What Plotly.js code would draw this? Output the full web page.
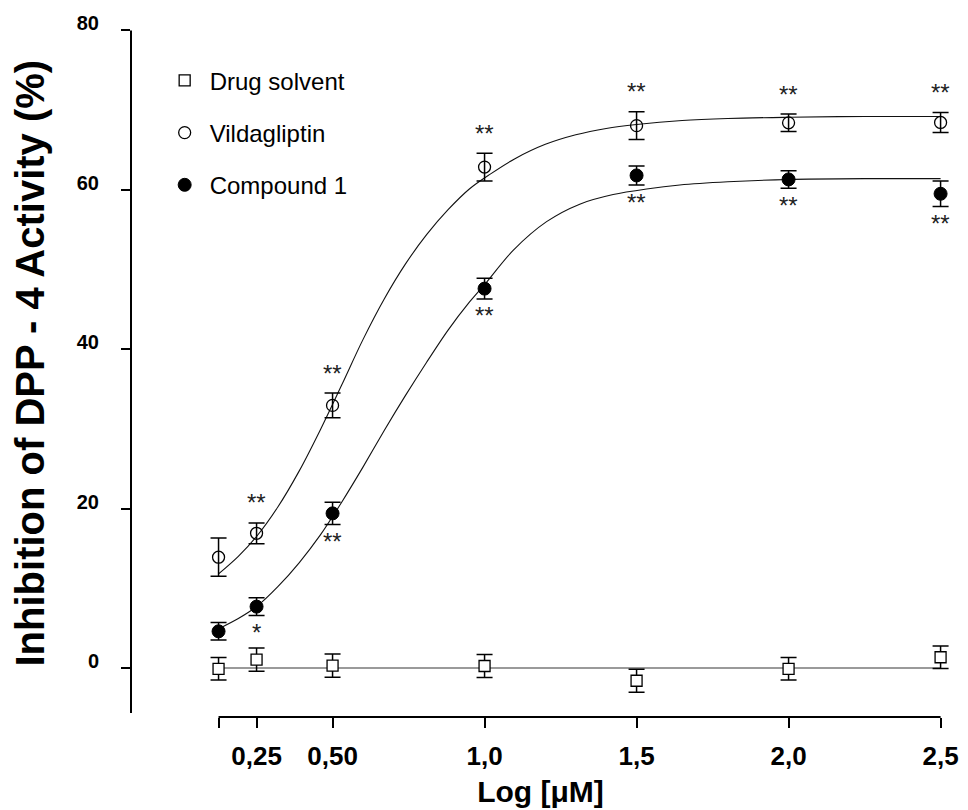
<!DOCTYPE html>
<html>
<head>
<meta charset="utf-8">
<script src="https://cdn.plot.ly/plotly-3.0.1.min.js"></script>
<style>html,body{margin:0;padding:0;background:#fff;}#chart{width:968px;height:810px;}</style>
</head>
<body>
<div id="chart"></div>
<script>
// ---- data ----
const xVals = [0.125, 0.25, 0.5, 1.0, 1.5, 2.0, 2.5];
const xTickText = ['', '0,25', '0,50', '1,0', '1,5', '2,0', '2,5'];
const yTicks = [0, 20, 40, 60, 80];

const solventMean = [-0.1, 1.05, 0.3, 0.25, -1.6, -0.1, 1.35];
const solventErr  = [1.4, 1.45, 1.45, 1.45, 1.45, 1.4, 1.4];

const vildaMean = [13.9, 16.9, 32.95, 62.85, 68.05, 68.4, 68.45];
const vildaErr  = [2.4, 1.3, 1.55, 1.75, 1.75, 1.1, 1.25];

const compMean = [4.6, 7.7, 19.4, 47.6, 61.8, 61.3, 59.5];
const compErr  = [1.1, 1.1, 1.4, 1.3, 1.2, 1.1, 1.6];

// fitted curves
const solventFitX = [0.125, 2.5];
const solventFitY = [0, 0];

const vildaFitX = [0.125, 0.19, 0.25, 0.32, 0.39, 0.46, 0.53, 0.60, 0.67, 0.74, 0.81, 0.88, 0.95, 1.02, 1.1, 1.2, 1.3, 1.4, 1.5, 1.65, 1.8, 2.0, 2.25, 2.5];
const vildaFitY = [11.8, 14.0, 16.5, 20.2, 24.7, 29.9, 35.5, 41.2, 46.3, 50.7, 54.4, 57.5, 60.1, 62.0, 63.9, 65.7, 66.9, 67.7, 68.2, 68.7, 68.95, 69.1, 69.2, 69.2];

const compFitX = [0.125, 0.19, 0.25, 0.32, 0.39, 0.46, 0.53, 0.6, 0.67, 0.74, 0.81, 0.88, 0.95, 1.0, 1.094, 1.204, 1.313, 1.423, 1.533, 1.642, 1.8, 2.0, 2.25, 2.5];
const compFitY = [4.9, 6.2, 7.7, 10.2, 13.2, 16.7, 20.8, 25.2, 29.8, 34.2, 38.4, 42.4, 45.9, 48.1, 52.4, 56.0, 58.2, 59.4, 60.1, 60.6, 61.0, 61.3, 61.4, 61.4];

const vildaStars = ['', '**', '**', '**', '**', '**', '**'];
const compStars  = ['', '*', '**', '**', '**', '**', '**'];

const seriesNames = ['Drug solvent', 'Vildagliptin', 'Compound 1'];

// ---- traces ----
const FONT = 'Arial, "Liberation Sans", sans-serif';
const errStyle = (arr) => ({type: 'data', array: arr, visible: true, color: '#000', thickness: 1.5, width: 8});

const traces = [
  {x: solventFitX, y: solventFitY, mode: 'lines', line: {color: '#9a9a9a', width: 2}, showlegend: false, hoverinfo: 'skip'},
  {x: vildaFitX, y: vildaFitY, mode: 'lines', line: {color: '#111', width: 1.1, shape: 'spline', smoothing: 1}, showlegend: false, hoverinfo: 'skip'},
  {x: compFitX, y: compFitY, mode: 'lines', line: {color: '#111', width: 1.1, shape: 'spline', smoothing: 0.8}, showlegend: false, hoverinfo: 'skip'},
  {x: xVals, y: solventMean, name: seriesNames[0], legendgroup: 'g1', mode: 'markers', cliponaxis: false,
   marker: {symbol: 'square', size: 11, color: '#fff', line: {color: '#000', width: 1.3}}, error_y: errStyle(solventErr)},
  {x: xVals, y: vildaMean, name: seriesNames[1], legendgroup: 'g2', mode: 'markers', cliponaxis: false,
   marker: {symbol: 'circle-open', size: 12, color: '#000', line: {color: '#000', width: 1.3}}, error_y: errStyle(vildaErr)},
  {x: xVals, y: compMean, name: seriesNames[2], legendgroup: 'g3', mode: 'markers', cliponaxis: false,
   marker: {symbol: 'circle', size: 13, color: '#000', line: {color: '#000', width: 1}}, error_y: errStyle(compErr)}
];

// significance stars
const annotations = [];
xVals.forEach((x, i) => {
  if (vildaStars[i]) annotations.push({x: x, y: vildaMean[i] + vildaErr[i], xref: 'x', yref: 'y', text: vildaStars[i],
    showarrow: false, yanchor: 'middle', yshift: 20, font: {family: FONT, size: 24, color: '#222'}});
  if (compStars[i]) annotations.push({x: x, y: compMean[i] - compErr[i], xref: 'x', yref: 'y', text: compStars[i],
    showarrow: false, yanchor: 'middle', yshift: -17, font: {family: FONT, size: 24, color: '#222'}});
});
// y-axis title (placed as rotated text)
annotations.push({x: 0, y: 0.5, xref: 'paper', yref: 'paper', xanchor: 'center', yanchor: 'middle', xshift: -102, yshift: 9,
  textangle: -90, showarrow: false, text: 'Inhibition of DPP - 4 Activity (%)',
  font: {family: FONT, size: 40, color: '#000', weight: 'bold'}});

const layout = {
  width: 968, height: 810,
  margin: {l: 131, r: 18, t: 28, b: 93},
  paper_bgcolor: '#fff', plot_bgcolor: '#fff',
  showlegend: true,
  legend: {x: 0.035, y: 0.956, xanchor: 'left', yanchor: 'top', traceorder: 'grouped', tracegroupgap: 18,
    itemwidth: 40, font: {family: FONT, size: 24, color: '#000'}, bgcolor: 'rgba(0,0,0,0)'},
  xaxis: {range: [-0.163, 2.531], tickvals: xVals, ticktext: xTickText, ticks: 'outside', ticklen: 10, tickwidth: 2,
    tickcolor: '#000', showgrid: false, zeroline: false, showline: false, ticklabelstandoff: 6,
    tickfont: {family: FONT, size: 26, color: '#000', weight: 'bold'},
    title: {text: 'Log [μM]', font: {family: FONT, size: 30, color: '#000', weight: 'bold'}, standoff: 10}},
  yaxis: {range: [-6.15, 80.3], tickvals: yTicks, ticks: 'outside', ticklen: 9, tickwidth: 2, tickcolor: '#000',
    showgrid: false, zeroline: false, showline: false, ticklabelstandoff: 18, ticklabelshift: -7,
    tickfont: {family: FONT, size: 20, color: '#000', weight: 'bold'}},
  shapes: [
    {type: 'line', xref: 'paper', yref: 'y', x0: 0, x1: 0, y0: -5.65, y1: 80, line: {color: '#000', width: 2}},
    {type: 'line', xref: 'x', yref: 'paper', x0: xVals[0], x1: xVals[xVals.length - 1], y0: 0, y1: 0, line: {color: '#000', width: 2}}
  ],
  annotations: annotations
};

Plotly.newPlot('chart', traces, layout, {displayModeBar: false, staticPlot: true});
</script>
</body>
</html>
